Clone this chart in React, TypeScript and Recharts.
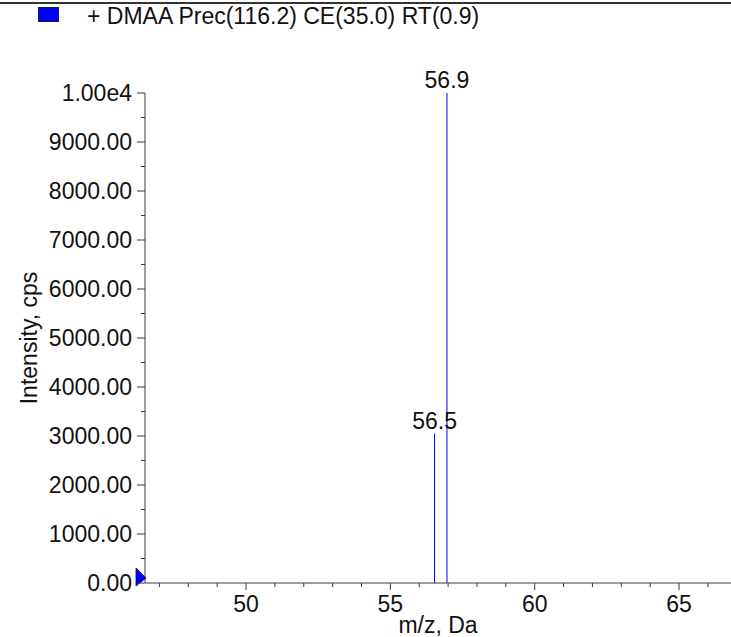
import React from "react";
import {
  ComposedChart,
  Bar,
  XAxis,
  YAxis,
  LabelList,
  ReferenceDot,
  Legend,
} from "recharts";

const seriesName = "+ DMAA Prec(116.2) CE(35.0) RT(0.9)";

// peaks
const peakMz = [56.52, 56.95];
const peakIntensity = [3050, 10000];
const peakLabels = ["56.5", "56.9"];

const xTicks = [47, 48, 49, 50, 51, 52, 53, 54, 55, 56, 57, 58, 59, 60, 61, 62, 63, 64, 65, 66];
const yTicks = [
  0, 500, 1000, 1500, 2000, 2500, 3000, 3500, 4000, 4500, 5000, 5500, 6000,
  6500, 7000, 7500, 8000, 8500, 9000, 9500, 10000,
];

const FONT = '"Liberation Sans", Arial, sans-serif';
const AXIS = "#3a3a3a";
const TEXT = "#111";
const BLUE = "#0000ff";

const data = peakMz.map((mz, i) => ({
  mz,
  intensity: peakIntensity[i],
  label: peakLabels[i],
}));

function formatY(v: number) {
  if (v >= 10000) return "1.00e4";
  return v.toFixed(2);
}

function XTick({ x, y, payload }: any) {
  const v = payload.value;
  const major = v % 5 === 0;
  return (
    <g>
      <line x1={x} x2={x} y1={y} y2={y + (major ? 7 : 4)} stroke={AXIS} />
      {major && (
        <text x={x} y={y + 29} textAnchor="middle" fontFamily={FONT} fontSize={23} fill={TEXT}>
          {v}
        </text>
      )}
    </g>
  );
}

function YTick({ x, y, payload }: any) {
  const v = payload.value;
  const major = v % 1000 === 0;
  return (
    <g>
      <line x1={x - (major ? 8 : 4)} x2={x} y1={y} y2={y} stroke={AXIS} />
      {major && (
        <text x={x - 13} y={y + 8} textAnchor="end" fontFamily={FONT} fontSize={23} fill={TEXT}>
          {formatY(v)}
        </text>
      )}
    </g>
  );
}

function PeakLine(p: any) {
  const cx = p.x + p.width / 2;
  return <line x1={cx} x2={cx} y1={p.y} y2={p.y + p.height} stroke={BLUE} strokeWidth={1} />;
}

function OriginMarker({ cx, cy }: any) {
  return (
    <polygon
      points={`${cx - 9},${cy - 15} ${cx + 1},${cy - 5} ${cx - 9},${cy + 3}`}
      fill={BLUE}
      stroke="#000066"
      strokeWidth={0.8}
    />
  );
}

function LegendContent({ payload }: any) {
  const item = payload && payload[0];
  if (!item) return null;
  return (
    <div style={{ position: "relative", height: 30, fontFamily: FONT }}>
      <div
        style={{
          position: "absolute",
          left: 38,
          top: 7,
          width: 21,
          height: 15,
          background: BLUE,
          border: "1px solid #1a1a4a",
          boxSizing: "border-box",
        }}
      />
      <span
        style={{
          position: "absolute",
          left: 87,
          top: 3,
          fontSize: 23,
          lineHeight: "27px",
          color: TEXT,
          whiteSpace: "nowrap",
        }}
      >
        {item.value}
      </span>
    </div>
  );
}

export default function App() {
  return (
    <div
      style={{
        position: "absolute",
        left: 0,
        top: 0,
        width: 731,
        height: 637,
        background: "#fff",
        overflow: "hidden",
      }}
    >
      <div
        style={{
          position: "absolute",
          left: 0,
          top: 2,
          width: 731,
          height: 2,
          background: "#333",
        }}
      />
      <ComposedChart
        width={731}
        height={637}
        data={data}
        margin={{ top: 93, right: 0, bottom: 0, left: 0 }}
      >
        <Legend
          verticalAlign="middle"
          align="center"
          wrapperStyle={{ top: 0, left: 0, width: 731, height: 30 }}
          content={<LegendContent />}
        />
        <XAxis
          dataKey="mz"
          type="number"
          domain={[46.5, 66.8]}
          allowDataOverflow
          ticks={xTicks}
          interval={0}
          height={54}
          tickSize={0}
          tickMargin={0}
          tickLine={false}
          axisLine={{ stroke: AXIS }}
          tick={<XTick />}
          label={{
            content: (props: any) => {
              const vb = props.viewBox;
              return (
                <text
                  x={vb.x + vb.width / 2}
                  y={vb.y + 50}
                  textAnchor="middle"
                  fontFamily={FONT}
                  fontSize={23}
                  fill={TEXT}
                >
                  m/z, Da
                </text>
              );
            },
          }}
        />
        <YAxis
          type="number"
          domain={[0, 10000]}
          ticks={yTicks}
          interval={0}
          width={145}
          tickSize={0}
          tickMargin={0}
          tickLine={false}
          axisLine={{ stroke: AXIS }}
          tick={<YTick />}
          label={{
            content: (props: any) => {
              const vb = props.viewBox;
              const cx = vb.x + 37;
              const cy = vb.y + vb.height / 2;
              return (
                <text
                  x={cx}
                  y={cy}
                  transform={`rotate(-90, ${cx}, ${cy})`}
                  textAnchor="middle"
                  fontFamily={FONT}
                  fontSize={23}
                  fill={TEXT}
                >
                  Intensity, cps
                </text>
              );
            },
          }}
        />
        <Bar
          dataKey="intensity"
          name={seriesName}
          fill={BLUE}
          barSize={1}
          shape={<PeakLine />}
          isAnimationActive={false}
        >
          <LabelList
            dataKey="label"
            position="top"
            offset={5}
            fill={TEXT}
            fontSize={23}
            fontFamily={FONT}
          />
        </Bar>
        <ReferenceDot x={46.5} y={0} r={0} shape={<OriginMarker />} />
      </ComposedChart>
    </div>
  );
}
